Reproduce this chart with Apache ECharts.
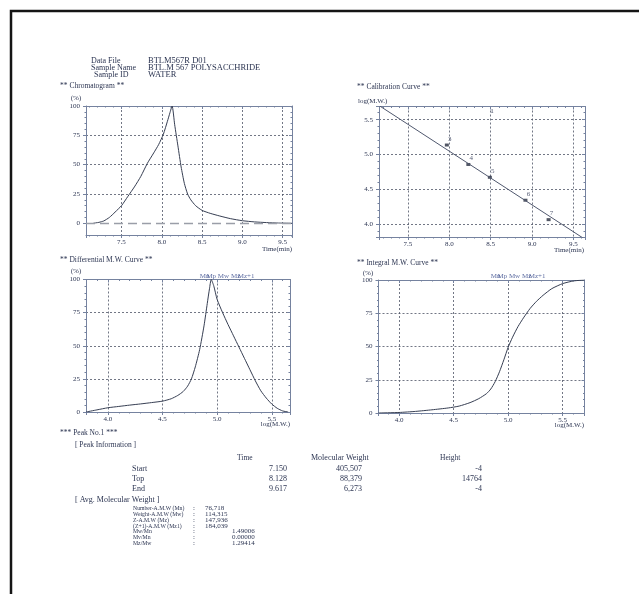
<!DOCTYPE html>
<html>
<head>
<meta charset="utf-8">
<script src="https://cdn.jsdelivr.net/npm/echarts@6/dist/echarts.min.js"></script>
<style>
  html, body { margin: 0; padding: 0; background: #ffffff; }
  #report { width: 639px; height: 594px; }
</style>
</head>
<body>
<div id="report"></div>
<script>
// ---- sample header ----
const headerLabels = ['Data File', 'Sample Name', 'Sample ID'];
const headerValues = ['BTLM567R D01', 'BTL.M 567 POLYSACCHRIDE', 'WATER'];

// ---- chromatogram: retention time (min) vs relative signal (%) ----
const chromTime   = [7.15, 7.22, 7.28, 7.35, 7.42, 7.50, 7.58, 7.66, 7.74, 7.82, 7.90, 7.96, 8.02, 8.07, 8.10, 8.128,
                     8.16, 8.20, 8.24, 8.28, 8.32, 8.36, 8.42, 8.50, 8.60, 8.72, 8.85, 9.00, 9.15, 9.30, 9.45, 9.617];
const chromSignal = [0, 0.8, 2, 5, 9.5, 15, 23, 31, 40, 51, 60, 67, 76, 87, 94, 100,
                     84, 66, 48, 34, 25, 20, 15, 11, 8.5, 6.2, 4, 2.2, 1.2, 0.6, 0.2, 0];

// ---- calibration: fitted line and standards ----
const calFitTime = [7.15, 9.64];
const calFitLogM = [5.704, 3.777];
const stdTime = [7.97, 8.23, 8.49, 8.92, 9.20];
const stdLogM = [5.135, 4.855, 4.67, 4.34, 4.06];
const stdNo   = ['3', '4', '5', '6', '7'];

// ---- differential molecular weight distribution ----
const diffLogMW = [3.80, 3.90, 4.00, 4.10, 4.20, 4.30, 4.40, 4.50, 4.58, 4.64, 4.69, 4.73, 4.765, 4.80, 4.84, 4.88, 4.91,
                   4.93, 4.946, 4.97, 5.00, 5.05, 5.10, 5.15, 5.20, 5.25, 5.30, 5.35, 5.40, 5.45, 5.50, 5.55, 5.60, 5.65];
const diffPct   = [0, 1.6, 3.2, 4.2, 5.2, 6.1, 7.1, 8.2, 10, 12.5, 15.5, 19.5, 25, 34, 47, 65, 82,
                   93, 100, 95, 85, 75, 66, 57.5, 49, 40.5, 32, 23.5, 16, 10.5, 6, 2.8, 0.8, 0];

// ---- integral (cumulative) molecular weight distribution ----
const intLogMW = [3.81, 4.00, 4.15, 4.30, 4.45, 4.55, 4.65, 4.73, 4.80, 4.84, 4.88, 4.92, 4.96, 5.00, 5.04, 5.09,
                  5.14, 5.20, 5.26, 5.32, 5.40, 5.50, 5.60, 5.70];
const intPct   = [0, 0.4, 1.2, 2.4, 3.8, 5.2, 7.8, 10.8, 14.5, 18, 23.5, 31, 40, 49.5, 57, 65,
                  71.5, 78.5, 84, 88.5, 93.5, 97.3, 99.3, 100];

// ---- average molecular weights marked on the distribution plots ----
const avgMarkNames  = ['Mn', 'Mp', 'Mw', 'Mz', 'Mz+1'];
const avgMarkValues = [76718, 88379, 114315, 147936, 184039];

// ---- peak table ----
const peakRowNames = ['Start', 'Top', 'End'];
const peakTimes    = ['7.150', '8.128', '9.617'];
const peakMW       = ['405,507', '88,379', '6,273'];
const peakHeights  = ['-4', '14764', '-4'];

const avgRowNames  = ['Number-A.M.W (Mn)', 'Weight-A.M.W (Mw)', 'Z-A.M.W (Mz)', '(Z+1)-A.M.W (Mz1)', 'Mw/Mn', 'Mv/Mn', 'Mz/Mw'];
const avgRowValues = ['76,718', '114,315', '147,936', '184,039', '1.49006', '0.00000', '1.29414'];

// ---- styling ----
const FONT  = '"Liberation Serif", "DejaVu Serif", serif';
const INK   = '#2c3552';
const FRAME = '#75829f';
const GRIDC = '#4f5566';
const CURVE = '#363e52';

const chart = echarts.init(document.getElementById('report'), null, { renderer: 'canvas' });

const halfFmt = v => (Math.abs(v * 2 - Math.round(v * 2)) < 1e-6 ? v.toFixed(1) : '');
const intFmt  = v => (Math.abs(v - Math.round(v)) < 1e-6 ? String(Math.round(v)) : '');

function axis(o) {
  return Object.assign({
    type: 'value',
    axisLine: { show: true, onZero: false, lineStyle: { color: FRAME, width: 1 } },
    axisTick: { show: false },
    minorTick: { show: false },
    axisLabel: { show: false },
    splitLine: { show: false }
  }, o);
}
function labelled(fmt, margin) {
  return { show: true, margin: margin, fontSize: 7, fontFamily: FONT, color: INK, formatter: fmt };
}
const tickOut = { show: true, inside: false, length: 3, lineStyle: { color: FRAME } };
const tickIn  = { show: true, inside: true, length: 3, lineStyle: { color: FRAME } };
const minor   = { show: true, splitNumber: 5, length: 1.5, lineStyle: { color: FRAME } };
const dashed  = { show: true, lineStyle: { color: GRIDC, type: [2, 2], width: 0.8 } };

function xPair(grid, min, max, split) {
  return [
    axis({ gridIndex: grid, position: 'bottom', min, max, splitNumber: split,
           axisTick: tickOut, minorTick: minor, axisLabel: labelled(halfFmt, 4), splitLine: dashed }),
    axis({ gridIndex: grid, position: 'top', min, max, splitNumber: split, axisTick: tickIn, minorTick: minor })
  ];
}
function yPair(grid, min, max, extra, fmt) {
  return [
    axis(Object.assign({ gridIndex: grid, position: 'left', min, max,
           axisTick: tickOut, minorTick: minor, axisLabel: labelled(fmt, 6), splitLine: dashed }, extra)),
    axis(Object.assign({ gridIndex: grid, position: 'right', min, max, axisTick: tickIn, minorTick: minor }, extra))
  ];
}

const grids = [
  { left: 86,    top: 106,   width: 206, height: 129 },     // chromatogram frame
  { left: 86,    top: 106,   width: 206, height: 117.3 },   // chromatogram 0..100 %
  { left: 379,   top: 106.5, width: 206, height: 130.5 },   // calibration
  { left: 86,    top: 279.5, width: 204, height: 132.5 },   // differential
  { left: 378.5, top: 280,   width: 206, height: 133 }      // integral
].map(g => Object.assign({ outerBoundsMode: 'none', containLabel: false }, g));

const chromX = xPair(0, 7.06, 9.615, 5);
const xAxes = [
  chromX[0], chromX[1],
  axis({ gridIndex: 1, min: 7.06, max: 9.615, show: false }),
  ...xPair(2, 7.15, 9.64, 5),
  ...xPair(3, 3.80, 5.667, 4),
  ...xPair(4, 3.81, 5.70, 4)
];

const chromPctAxes = yPair(1, 0, 100, { interval: 25, axisLine: { show: false } }, intFmt);
chromPctAxes[0].splitLine = Object.assign({}, dashed, { showMinLine: false, showMaxLine: false });
const yAxes = [
  axis({ gridIndex: 0, position: 'left',  min: -10, max: 100 }),
  axis({ gridIndex: 0, position: 'right', min: -10, max: 100 }),
  chromPctAxes[0], chromPctAxes[1],
  ...yPair(2, 3.81, 5.69, { splitNumber: 4 }, halfFmt),
  ...yPair(3, 0, 100, { interval: 25 }, intFmt),
  ...yPair(4, 0, 100, { interval: 25 }, intFmt)
];

const zip = (a, b) => a.map((v, i) => [v, b[i]]);
const curveStyle = { color: CURVE, width: 1 };

function avgMarks(xi, yi) {
  return {
    type: 'scatter', xAxisIndex: xi, yAxisIndex: yi, symbolSize: 0, silent: true, clip: false,
    data: avgMarkValues.map((v, i) => ({ name: avgMarkNames[i], value: [Math.log10(v), 100] })),
    label: { show: true, position: 'top', distance: 0, formatter: '{b}',
             fontSize: 7, fontFamily: FONT, color: '#34478a' }
  };
}

const series = [
  {
    type: 'line', xAxisIndex: 2, yAxisIndex: 2, symbol: 'none', smooth: 0.2,
    data: zip(chromTime, chromSignal), lineStyle: curveStyle, z: 3,
    markLine: {
      silent: true, symbol: 'none', label: { show: false },
      lineStyle: { color: '#9a9ea8', type: [9, 5], width: 1.3 },
      data: [{ yAxis: 0 }]
    }
  },
  {
    type: 'line', xAxisIndex: 3, yAxisIndex: 4, symbol: 'none', clip: true,
    data: zip(calFitTime, calFitLogM), lineStyle: { color: '#50586e', width: 1 }
  },
  {
    type: 'scatter', xAxisIndex: 3, yAxisIndex: 4, symbol: 'rect', symbolSize: [4, 3],
    itemStyle: { color: '#262c3d' },
    data: stdTime.map((t, i) => ({ name: stdNo[i], value: [t, stdLogM[i]] })),
    label: { show: true, position: 'top', distance: 1, offset: [3, 0], formatter: '{b}',
             fontSize: 7, fontFamily: FONT, color: INK }
  },
  { type: 'line', xAxisIndex: 5, yAxisIndex: 6, symbol: 'none', smooth: 0.2,
    data: zip(diffLogMW, diffPct), lineStyle: curveStyle },
  avgMarks(5, 6),
  { type: 'line', xAxisIndex: 7, yAxisIndex: 8, symbol: 'none', smooth: 0.2,
    data: zip(intLogMW, intPct), lineStyle: curveStyle },
  avgMarks(7, 8)
];

function txt(text, x, y, align, size, sx) {
  return { type: 'text', x: x, y: y, silent: true, scaleX: sx || 1,
           style: { text: text, fontSize: size || 7.5, fontFamily: FONT, fill: INK,
                    align: align || 'left', verticalAlign: 'middle' } };
}

const graphics = [
  { type: 'rect', silent: true, shape: { x: 11, y: 11, width: 700, height: 700 },
    style: { fill: null, stroke: '#151515', lineWidth: 2.5 } }
];
headerLabels.forEach((s, i) => {
  graphics.push(txt(s, i === 2 ? 94 : 91, 61 + i * 6.8, 'left', 8));
  graphics.push(txt(headerValues[i], 148, 61 + i * 6.8, 'left', 8.5));
});
graphics.push(
  txt('** Chromatogram **', 60, 86),
  txt('(%)', 76, 98.5, 'center', 7),
  txt('Time(min)', 292, 249, 'right', 7),
  txt('** Calibration Curve **', 357, 87),
  txt('log(M.W.)', 358, 101, 'left', 7),
  txt('Time(min)', 584, 250, 'right', 7),
  txt('1', 492, 111, 'center', 7),
  txt('** Differential M.W. Curve **', 60, 260),
  txt('(%)', 76, 271, 'center', 7),
  txt('log(M.W.)', 290, 424, 'right', 7),
  txt('** Integral M.W. Curve **', 357, 263),
  txt('(%)', 368, 273, 'center', 7),
  txt('log(M.W.)', 584, 425, 'right', 7),
  txt('*** Peak No.1 ***', 60, 433),
  txt('[ Peak Information ]', 75, 445),
  txt('Time', 237, 458),
  txt('Molecular Weight', 311, 458, 'left', 8),
  txt('Height', 440, 458)
);
peakRowNames.forEach((s, i) => {
  const y = 469 + i * 10;
  graphics.push(txt(s, 132, y, 'left', 8), txt(peakTimes[i], 287, y, 'right', 8),
                txt(peakMW[i], 362, y, 'right', 8), txt(peakHeights[i], 482, y, 'right', 8));
});
graphics.push(txt('[ Avg. Molecular Weight ]', 75, 499.5, 'left', 8));
avgRowNames.forEach((s, i) => {
  const y = 508.5 + i * 5.75;
  graphics.push(txt(s, 133, y, 'left', 7, 0.82), txt(':', 193, y, 'left', 7),
                txt(avgRowValues[i], i < 4 ? 205 : 232, y, 'left', 7));
});

chart.setOption({
  animation: false,
  backgroundColor: '#ffffff',
  grid: grids,
  xAxis: xAxes,
  yAxis: yAxes,
  series: series,
  graphic: graphics
});
</script>
</body>
</html>
